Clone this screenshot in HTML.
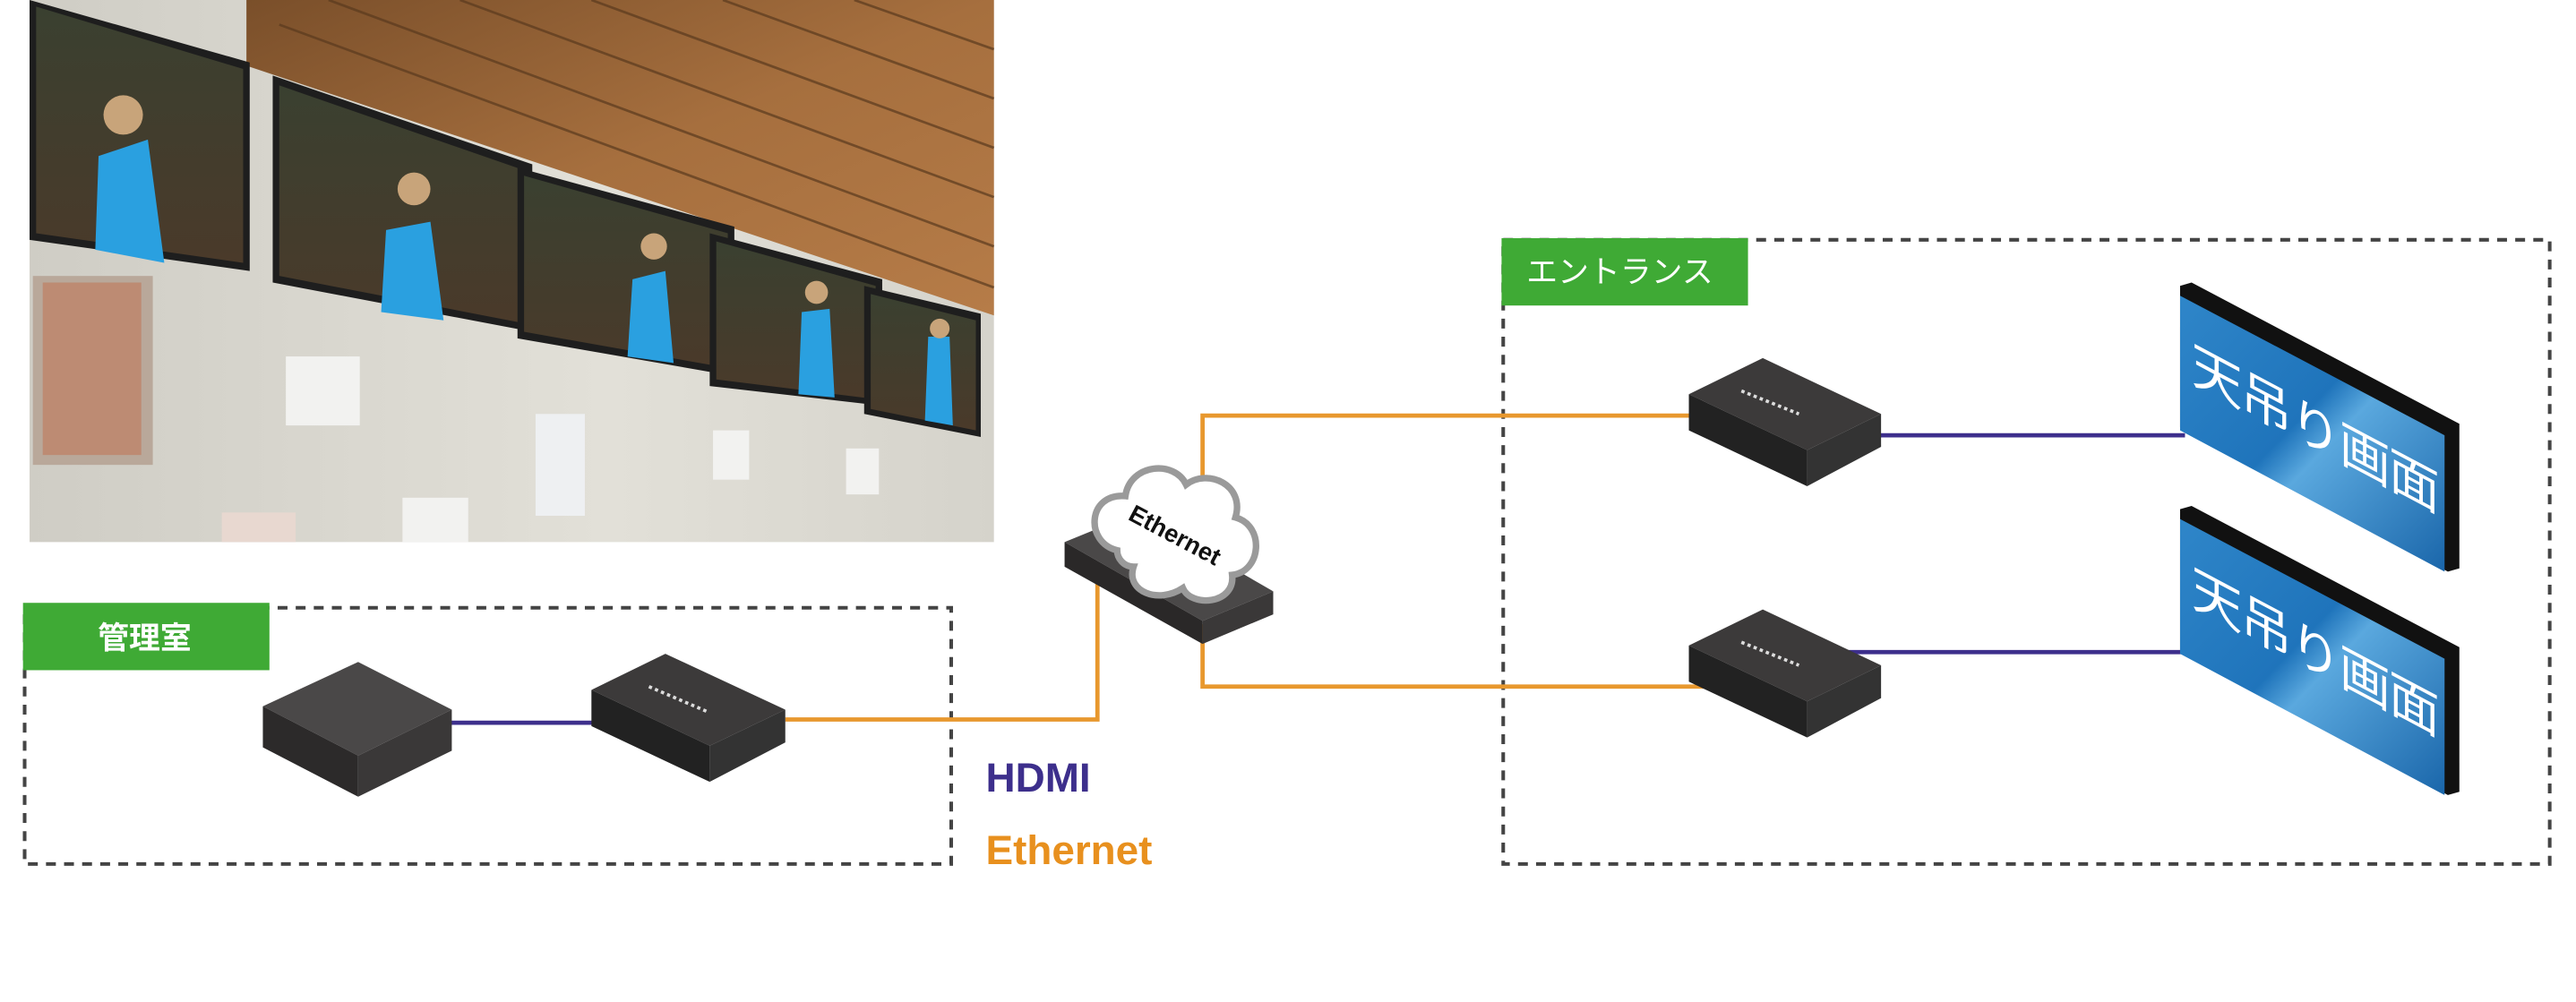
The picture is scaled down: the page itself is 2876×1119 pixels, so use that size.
<!DOCTYPE html>
<html><head><meta charset="utf-8">
<style>
html,body{margin:0;padding:0;background:#fff;width:2876px;height:1119px;overflow:hidden;position:relative}
svg{display:block;position:absolute;left:0;top:0}
text{font-family:"Liberation Sans","Noto Sans CJK JP",sans-serif}
</style></head>
<body>
<svg width="2876" height="1119" viewBox="0 0 1568 610" preserveAspectRatio="none" xmlns="http://www.w3.org/2000/svg">
<defs>
<linearGradient id="wood" x1="0" y1="0" x2="1" y2="1">
<stop offset="0" stop-color="#7a4f2a"/><stop offset="0.5" stop-color="#a66f3e"/><stop offset="1" stop-color="#b67c48"/>
</linearGradient>
<linearGradient id="wall" x1="0" y1="0" x2="1" y2="0">
<stop offset="0" stop-color="#cfcdc5"/><stop offset="0.6" stop-color="#e2e0d8"/><stop offset="1" stop-color="#d5d3cb"/>
</linearGradient>
<linearGradient id="scr" x1="0" y1="0" x2="1" y2="1">
<stop offset="0" stop-color="#2f86c9"/><stop offset="0.45" stop-color="#1f74bb"/><stop offset="0.55" stop-color="#5aa8de"/><stop offset="1" stop-color="#1a66aa"/>
</linearGradient>
<linearGradient id="tvimg" x1="0" y1="0" x2="0" y2="1">
<stop offset="0" stop-color="#3a4030"/><stop offset="1" stop-color="#4a3a2a"/>
</linearGradient>
<clipPath id="c1"><polygon points="1327,180 1488,265 1488,348 1327,262"/></clipPath>
</defs>

<!-- Photo -->
<rect x="18" y="0" width="587" height="330" fill="url(#wall)"/>
<polygon points="150,0 605,0 605,192 150,40" fill="url(#wood)"/>
<g stroke="#5a3a1e" stroke-width="1.5" opacity="0.7">
<line x1="200" y1="0" x2="605" y2="150"/><line x1="280" y1="0" x2="605" y2="120"/>
<line x1="360" y1="0" x2="605" y2="90"/><line x1="440" y1="0" x2="605" y2="60"/>
<line x1="520" y1="0" x2="605" y2="30"/><line x1="170" y1="15" x2="605" y2="175"/>
</g>
<polygon points="18,0 152,38 152,165 18,146" fill="#1e1e1e"/>
<polygon points="22,4 148,42 148,160 22,142" fill="url(#tvimg)"/>
<polygon points="166,46 324,100 324,202 166,172" fill="#1e1e1e"/>
<polygon points="170,52 320,104 320,197 170,168" fill="url(#tvimg)"/>
<polygon points="315,102 447,138 447,229 315,206" fill="#1e1e1e"/>
<polygon points="319,107 443,142 443,224 319,202" fill="url(#tvimg)"/>
<polygon points="432,142 537,170 537,247 432,235" fill="#1e1e1e"/>
<polygon points="436,147 533,174 533,243 436,231" fill="url(#tvimg)"/>
<polygon points="526,174 597,191 597,266 526,252" fill="#1e1e1e"/>
<polygon points="530,179 594,195 594,262 530,249" fill="url(#tvimg)"/>
<g fill="#2aa0e0">
<polygon points="60,95 90,85 100,160 58,152"/>
<polygon points="235,140 262,135 270,195 232,190"/>
<polygon points="385,170 405,165 410,221 382,217"/>
<polygon points="488,190 505,188 508,242 486,240"/>
<polygon points="565,205 578,205 580,259 563,256"/>
</g>
<g fill="#c8a47a">
<circle cx="75" cy="70" r="12"/><circle cx="252" cy="115" r="10"/><circle cx="398" cy="150" r="8"/><circle cx="497" cy="178" r="7"/><circle cx="572" cy="200" r="6"/>
</g>
<rect x="20" y="168" width="73" height="115" fill="#b9a89a"/>
<rect x="26" y="172" width="60" height="105" fill="#c0785a" opacity="0.6"/>
<rect x="174" y="217" width="45" height="42" fill="#f2f2f0"/>
<rect x="326" y="252" width="30" height="62" fill="#eef0f2"/>
<rect x="434" y="262" width="22" height="30" fill="#f2f2f0"/>
<rect x="515" y="273" width="20" height="28" fill="#f2f2f0"/>
<rect x="245" y="303" width="40" height="27" fill="#f2f2f0"/>
<rect x="135" y="312" width="45" height="18" fill="#e8d8d0"/>

<!-- 管理室 box -->
<rect x="15" y="370" width="564" height="156" fill="none" stroke="#444" stroke-width="2.2" stroke-dasharray="6,5"/>
<rect x="14" y="367" width="150" height="41" fill="#3faa35"/>
<text x="88" y="395" font-size="19" font-weight="bold" fill="#fff" text-anchor="middle">管理室</text>

<!-- エントランス box -->
<rect x="915" y="146" width="637" height="380" fill="none" stroke="#444" stroke-width="2.2" stroke-dasharray="6,5"/>
<rect x="914" y="145" width="150" height="41" fill="#3faa35"/>
<text x="986" y="172" font-size="19" fill="#fff" text-anchor="middle">エントランス</text>

<!-- Ethernet lines -->
<g fill="none" stroke="#e8982e" stroke-width="2.6">
<polyline points="478,438 668,438 668,355"/>
<polyline points="732,350 732,253 1030,253"/>
<polyline points="732,380 732,418 1045,418"/>
</g>
<!-- HDMI lines -->
<g fill="none" stroke="#3d2f8c" stroke-width="2.6">
<line x1="272" y1="440" x2="368" y2="440"/>
<line x1="1140" y1="265" x2="1330" y2="265"/>
<line x1="1110" y1="397" x2="1330" y2="397"/>
</g>

<!-- PC box -->
<polygon points="160,430 218,403 275,432 218,460" fill="#4a4848"/>
<polygon points="160,430 218,460 218,485 160,455" fill="#2c2a2a"/>
<polygon points="218,460 275,432 275,457 218,485" fill="#3a3838"/>
<!-- left extender -->
<polygon points="360,420 405,398 478,432 432,454" fill="#3c3a3a"/>
<polygon points="360,420 432,454 432,476 360,442" fill="#222"/>
<polygon points="432,454 478,432 478,452 432,476" fill="#333"/>
<line x1="395" y1="418" x2="430" y2="433" stroke="#ddd" stroke-width="2" stroke-dasharray="2,2"/>
<!-- right extenders -->
<g>
<polygon points="1028,240 1073,218 1145,252 1100,274" fill="#3c3a3a"/>
<polygon points="1028,240 1100,274 1100,296 1028,262" fill="#222"/>
<polygon points="1100,274 1145,252 1145,272 1100,296" fill="#333"/>
<line x1="1060" y1="238" x2="1095" y2="252" stroke="#ddd" stroke-width="2" stroke-dasharray="2,2"/>
</g>
<g transform="translate(0,153)">
<polygon points="1028,240 1073,218 1145,252 1100,274" fill="#3c3a3a"/>
<polygon points="1028,240 1100,274 1100,296 1028,262" fill="#222"/>
<polygon points="1100,274 1145,252 1145,272 1100,296" fill="#333"/>
<line x1="1060" y1="238" x2="1095" y2="252" stroke="#ddd" stroke-width="2" stroke-dasharray="2,2"/>
</g>

<!-- switch + cloud -->
<polygon points="648,330 692,312 775,360 732,378" fill="#4a4848"/>
<polygon points="648,330 732,378 732,392 648,345" fill="#2a2828"/>
<polygon points="732,378 775,360 775,374 732,392" fill="#3a3838"/>
<g fill="#fff" stroke="#9a9a9a" stroke-width="4">
<path d="M680,335 C660,330 662,300 685,302 C688,282 715,280 722,295 C735,285 758,295 752,315 C770,320 768,348 750,350 C752,368 725,370 720,358 C705,368 685,360 690,345 C684,345 680,340 680,335 Z"/>
</g>
<text x="0" y="0" font-size="15" font-weight="bold" fill="#111" transform="translate(686,316) rotate(28)">Ethernet</text>

<!-- screens -->
<g>
<polygon points="1327,174 1334,172 1497,258 1497,346 1490,348 1327,260" fill="#111"/>
<polygon points="1327,180 1488,265 1488,348 1327,262" fill="url(#scr)"/>
<g clip-path="url(#c1)"><text x="0" y="0" font-size="31" letter-spacing="-1" fill="#fff" transform="translate(1334,232) skewY(28)">天吊り画面</text></g>
</g>
<g transform="translate(0,136)">
<polygon points="1327,174 1334,172 1497,258 1497,346 1490,348 1327,260" fill="#111"/>
<polygon points="1327,180 1488,265 1488,348 1327,262" fill="url(#scr)"/>
<g clip-path="url(#c1)"><text x="0" y="0" font-size="31" letter-spacing="-1" fill="#fff" transform="translate(1334,232) skewY(28)">天吊り画面</text></g>
</g>

<!-- legend -->
<text x="600" y="482" font-size="25" font-weight="bold" fill="#3d2f8c">HDMI</text>
<text x="600" y="526" font-size="25" font-weight="bold" fill="#e8901e">Ethernet</text>
</svg>
</body></html>
